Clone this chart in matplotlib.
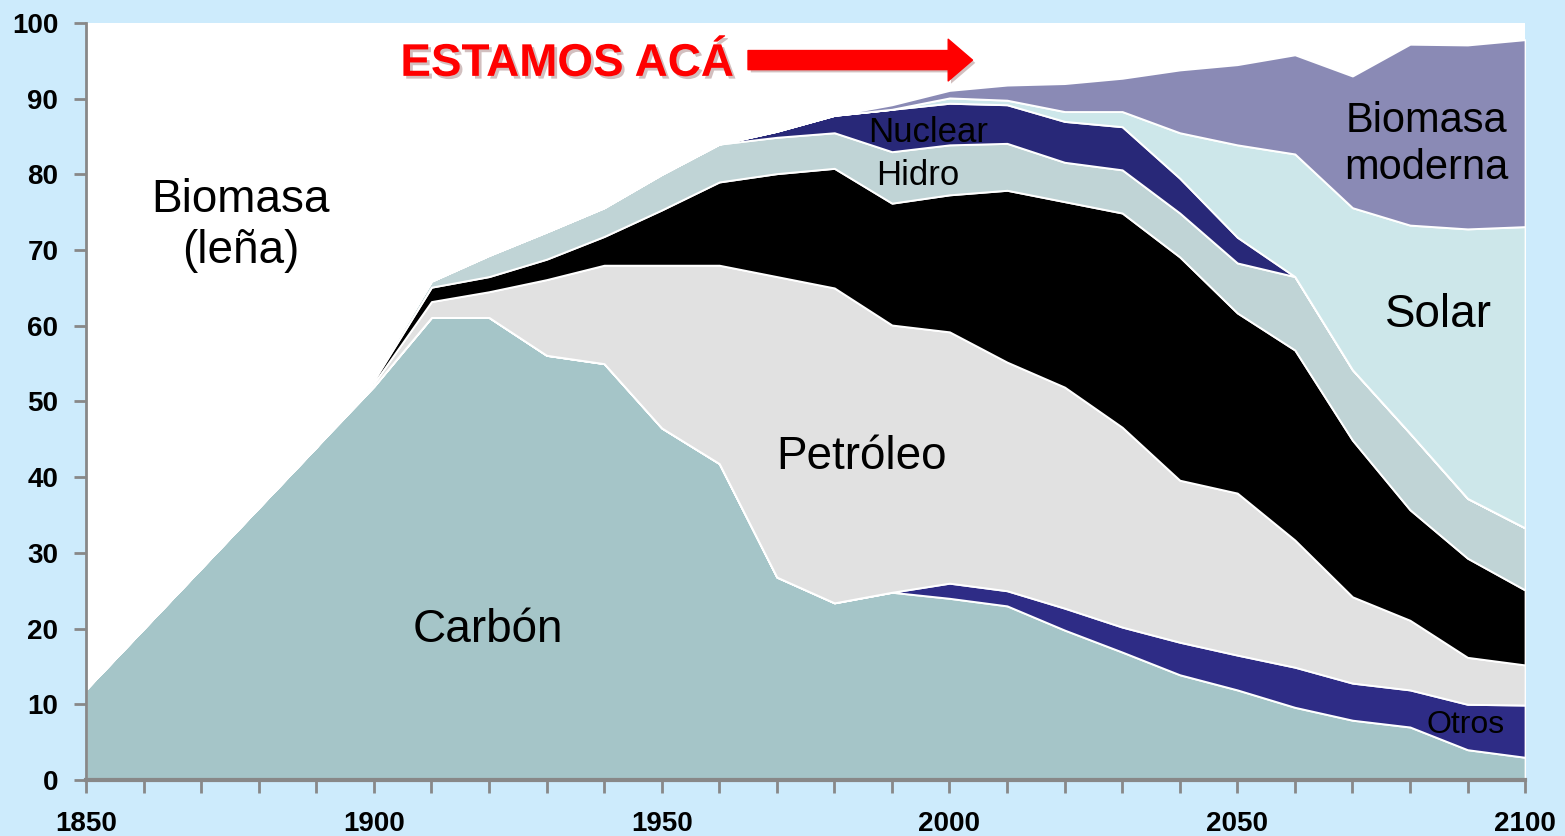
import matplotlib
matplotlib.use("Agg")
import matplotlib.pyplot as plt
import matplotlib.patheffects as pe
import numpy as np

plt.rcParams['font.family'] = ['Liberation Sans', 'DejaVu Sans']

years = list(range(1850, 2101, 10))

carbon = [12, 20, 28, 36, 44, 52, 61.1, 61.1, 56.1, 55.0, 46.5, 41.8, 26.8, 23.4,
          24.8, 24.0, 23.0, 19.8, 16.9, 13.9, 11.9, 9.6, 7.9, 7.0, 4.0, 3.0]
otros = [0, 0, 0, 0, 0, 0, 0, 0, 0, 0, 0, 0, 0, 0,
         0, 2.0, 2.0, 2.9, 3.3, 4.3, 4.6, 5.3, 4.9, 4.9, 6.0, 6.9]
petroleo = [0, 0, 0, 0, 0, 0.4, 2.1, 3.4, 10.0, 13.0, 21.5, 26.2, 39.7, 41.6,
            35.3, 33.2, 30.2, 29.2, 26.4, 21.4, 21.4, 16.8, 11.4, 9.2, 6.2, 5.3]
gas = [0, 0, 0, 0, 0, 0.4, 1.9, 2.0, 2.7, 3.8, 7.3, 11.0, 13.6, 15.8,
       16.1, 18.1, 22.7, 24.5, 28.3, 29.5, 23.8, 25.1, 20.7, 14.6, 13.1, 9.9]
hidro = [0, 0, 0, 0, 0, 0.4, 0.8, 2.8, 3.6, 3.8, 4.7, 5.0, 4.8, 4.7,
         6.8, 6.6, 6.2, 5.2, 5.7, 5.8, 6.6, 9.7, 9.3, 10.1, 7.9, 8.2]
nuclear = [0, 0, 0, 0, 0, 0, 0, 0, 0, 0, 0, 0, 0.8, 2.3,
           5.6, 5.5, 5.1, 5.4, 5.7, 4.6, 3.4, 0, 0, 0, 0, 0]
solar = [0, 0, 0, 0, 0, 0, 0, 0, 0, 0, 0, 0, 0, 0,
         0, 0.7, 0.6, 1.3, 2.0, 6.0, 12.2, 16.2, 21.4, 27.5, 35.6, 39.8]
biomasa_moderna = [0, 0, 0, 0, 0, 0, 0, 0, 0, 0, 0, 0, 0, 0,
                   0.6, 1.0, 2.0, 3.7, 4.4, 8.3, 10.6, 13.1, 17.4, 23.9, 24.3, 24.7]

series = [carbon, otros, petroleo, gas, hidro, nuclear, solar, biomasa_moderna]
colors = ['#a5c5c8', '#2e2c86', '#e1e1e1', '#000000', '#c0d4d6', '#282878',
          '#cde7ea', '#8a8ab5']

x_tick_labels = ['1850', '1900', '1950', '2000', '2050', '2100']
y_ticks = list(range(0, 101, 10))

fig = plt.figure(figsize=(15.65, 8.36), dpi=100, facecolor='#cdebfc')
ax = fig.add_axes([0.055, 0.067, 0.9195, 0.9055])
ax.set_facecolor('white')

ax.stackplot(years, *series, colors=colors, edgecolor='white', linewidth=1.4)

ax.set_xlim(1850, 2100)
ax.set_ylim(0, 100)

for s in ['top', 'right']:
    ax.spines[s].set_visible(False)
ax.spines['left'].set_color('#888888')
ax.spines['left'].set_linewidth(2)
ax.spines['bottom'].set_color('#888888')
ax.spines['bottom'].set_linewidth(3)
ax.spines['left'].set_zorder(5)
ax.spines['bottom'].set_zorder(5)

ax.set_xticks(range(1850, 2101, 10))
ax.set_xticklabels([str(y) if str(y) in x_tick_labels else '' for y in range(1850, 2101, 10)])
ax.set_yticks(y_ticks)
ax.set_yticklabels([str(v) for v in y_ticks])
ax.tick_params(axis='x', direction='out', length=9, width=2, color='#888888',
               pad=13, labelsize=20)
ax.tick_params(axis='y', direction='out', length=9, width=2, color='#888888',
               pad=11, labelsize=20)
for lab in ax.get_xticklabels() + ax.get_yticklabels():
    lab.set_fontweight('bold')

# Labels
ax.text(1876.8, 73.3, 'Biomasa\n(leña)', fontsize=33, ha='center', va='center',
        linespacing=1.2)
ax.text(1919.8, 19.8, 'Carbón', fontsize=33, ha='center', va='center')
ax.text(1984.8, 42.7, 'Petróleo', fontsize=33, ha='center', va='center')
ax.text(1996.3, 85.5, 'Nuclear', fontsize=25, ha='center', va='center')
ax.text(1994.5, 79.8, 'Hidro', fontsize=25, ha='center', va='center')
ax.text(2082.8, 83.9, 'Biomasa\nmoderna', fontsize=30, ha='center', va='center',
        linespacing=1.22)
ax.text(2084.9, 61.4, 'Solar', fontsize=33, ha='center', va='center')
ax.text(2089.7, 7.3, 'Otros', fontsize=23, ha='center', va='center')

shadow = [pe.SimplePatchShadow(offset=(2, -2), alpha=0.25), pe.Normal()]
ax.text(1904.6, 94.6, 'ESTAMOS ACÁ', fontsize=33, fontweight='bold', color='#ff0000',
        ha='left', va='center', path_effects=shadow)
ax.annotate('', xy=(2004.0, 95.1), xytext=(1965.0, 95.1),
            arrowprops=dict(arrowstyle='simple,head_width=1.2,head_length=0.7,tail_width=0.55',
                            mutation_scale=25, color='#ff0000', shrinkA=0, shrinkB=0,
                            path_effects=shadow))

fig.savefig('out.png', dpi=100, facecolor=fig.get_facecolor())
